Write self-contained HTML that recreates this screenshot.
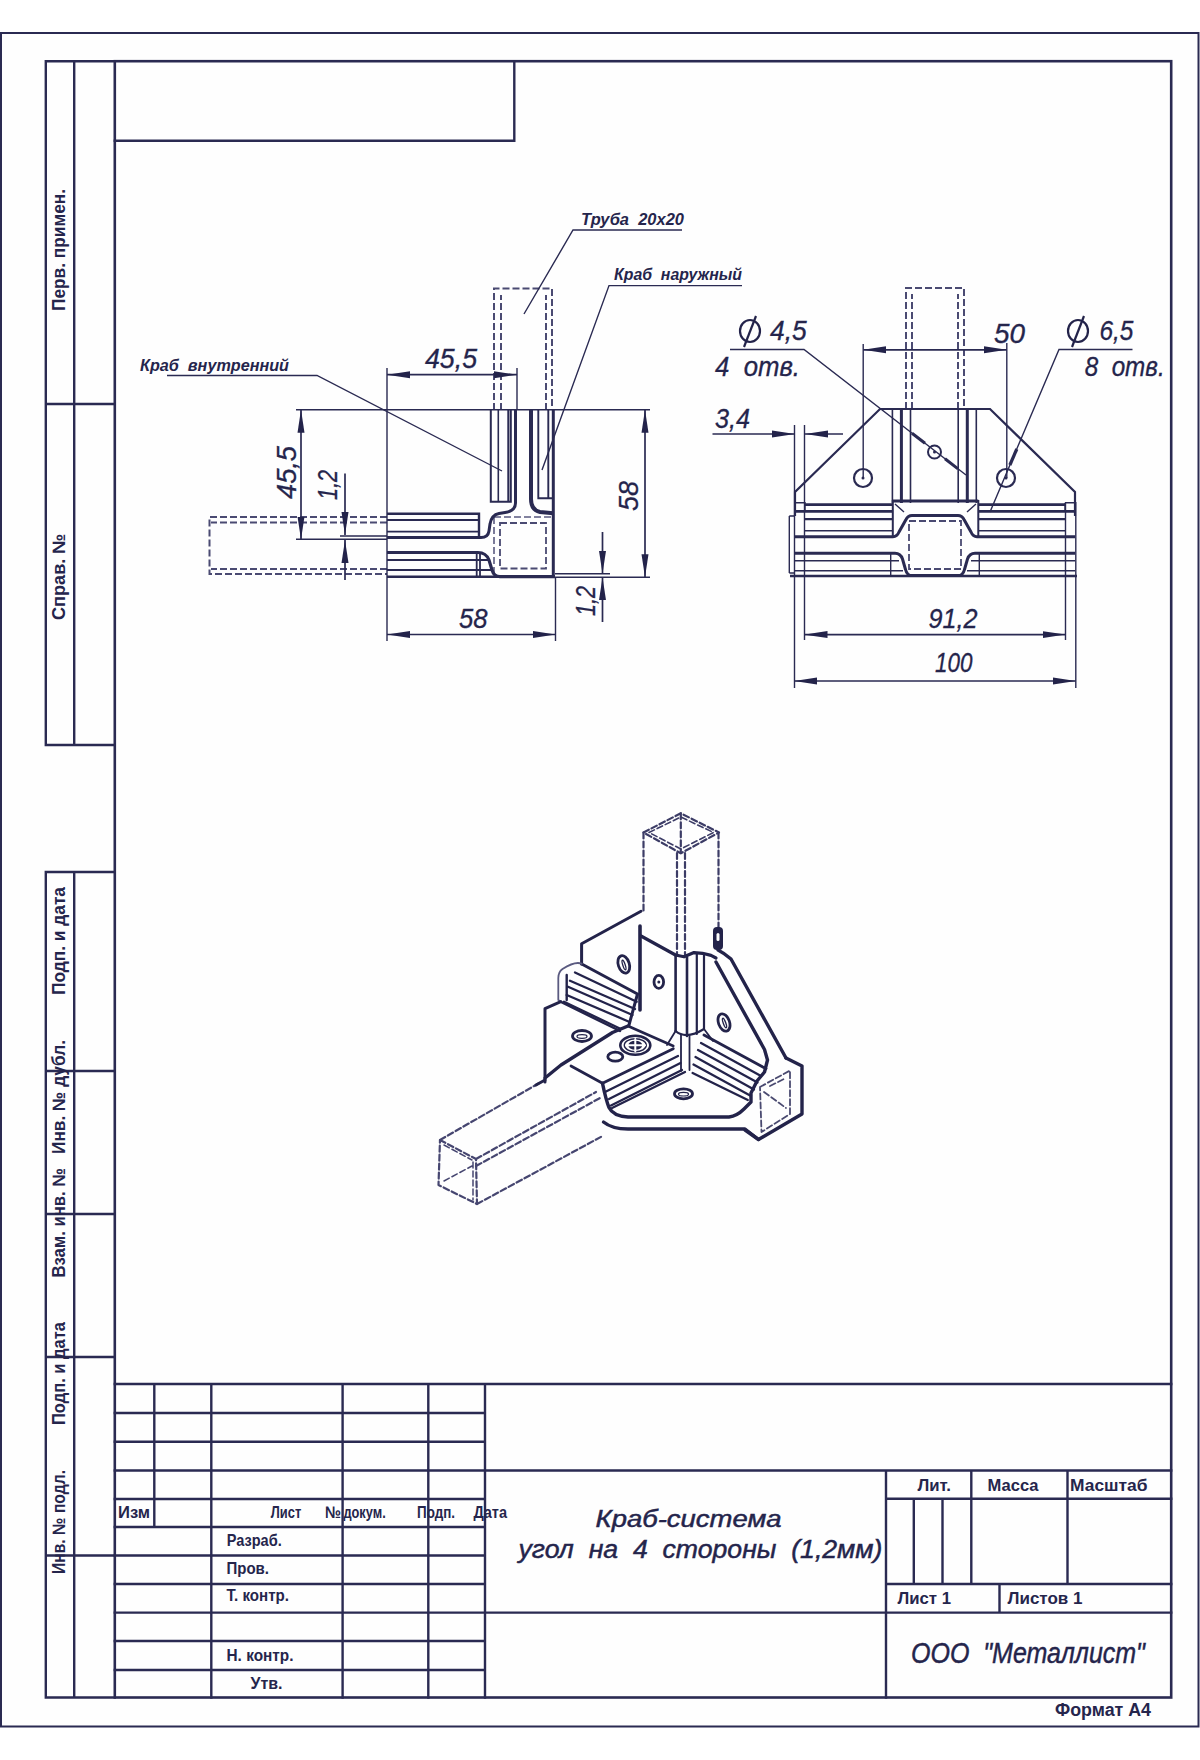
<!DOCTYPE html>
<html><head><meta charset="utf-8">
<style>
html,body{margin:0;padding:0;background:#fff;}
body{width:1200px;height:1760px;overflow:hidden;}
svg{display:block;}
text{font-family:"Liberation Sans",sans-serif;fill:#25254c;white-space:pre;}
.g{font-family:"Liberation Sans",sans-serif;font-style:italic;}
</style></head><body>
<svg width="1200" height="1760" viewBox="0 0 1200 1760">
<rect x="0" y="0" width="1200" height="1760" fill="#fff"/>
<rect x="2" y="34" width="1196" height="1692" fill="#fefefe"/>
<g id="frame" fill="none" stroke="#2a2a52" stroke-linecap="square">
<!-- outer border -->
<rect x="1" y="33" width="1197.5" height="1693.5" stroke-width="2"/>
<!-- inner frame -->
<rect x="114.8" y="61.2" width="1056.4" height="1636.3" stroke-width="2.6"/>
<!-- top-left box -->
<path d="M514.3 61.2 V140.8 H114.8" stroke-width="2.4"/>
<!-- left column -->
<path d="M45.8 61.2 H114.8 M45.8 61.2 V745 M74.2 61.2 V745 M45.8 404 H114.8 M45.8 745 H114.8
M45.8 872 V1697.5 M74.2 872 V1697.5 M45.8 872 H114.8 M45.8 1071 H114.8 M45.8 1214 H114.8 M45.8 1357 H114.8 M45.8 1555.5 H114.8 M45.8 1697.5 H114.8" stroke-width="2.4"/>
<!-- title block -->
<path d="M114.8 1384 H1171.2 M114.8 1413 H485 M114.8 1441.7 H485 M114.8 1470.5 H1171.2 M114.8 1499 H485 M114.8 1527 H485 M114.8 1555.5 H485
M114.8 1584 H485 M114.8 1612.6 H1171.2 M114.8 1641 H485 M114.8 1670 H485
M886 1498.8 H1171.2 M886 1584 H1171.2
M154.3 1384 V1527 M211.3 1384 V1697.5 M342.6 1384 V1697.5 M428.3 1384 V1697.5 M485 1384 V1697.5
M886 1470.5 V1697.5 M913.8 1498.8 V1584 M942.5 1498.8 V1584 M971.3 1470.5 V1584 M1067.5 1470.5 V1584 M999.5 1584 V1612.6" stroke-width="2.4"/>
</g>
<defs>
<marker id="ar" viewBox="0 0 23 9" refX="23" refY="4.5" markerWidth="23" markerHeight="9" markerUnits="userSpaceOnUse" orient="auto-start-reverse"><path d="M0 1 L23 4.5 L0 8 Z" fill="#23234a"/></marker>
</defs>
<g id="leftview" fill="none" stroke="#2a2a52" stroke-linecap="butt">
<!-- vertical pipe dashed -->
<path d="M494 410 V288.5 H552 V410 M501 410 V295 M546 410 V295" stroke-width="2" stroke-dasharray="7 3" stroke="#4a4a72"/>
<!-- horizontal pipe dashed -->
<path d="M387 517 H209.5 V574 H387 M387 522.5 H211 M387 569 H211" stroke-width="2" stroke-dasharray="7 3" stroke="#4a4a72"/>
<!-- third pipe section -->
<path d="M500 523 H546 V568.5 H500 Z" stroke-width="1.8" stroke-dasharray="7 3" stroke="#4a4a72"/>
<path d="M494 517 H552 M494 517 V574" stroke-width="1.6" stroke-dasharray="7 3" stroke="#5a5a80"/>
<!-- inner crab thin lines -->
<path d="M490.8 409.7 V501.7 H510.8 V409.7 M508.3 409.7 V501.7" stroke-width="2"/>
<path d="M498.3 409.7 V501.7" stroke-width="1.6"/>
<path d="M387 513.7 H479 V537.5" stroke-width="2.4"/>
<path d="M387 520 H479 M387 531.7 H479" stroke-width="1.8"/>
<!-- inner crab thick contour -->
<path d="M515.5 409.7 V503 Q515.5 511 505 512.5 L499 513.5 Q491.5 515 490 524 L489 531 Q488 537.5 481 537.5 H387" stroke-width="3"/>
<!-- outer crab -->
<path d="M531 409.7 V499 Q531 510 540 512 L553.3 513.3" stroke-width="4"/>
<path d="M538.3 409.7 V498.3 H553.3 M548.3 409.7 V498.3" stroke-width="1.9"/>
<path d="M553.3 409.7 V576.7" stroke-width="3"/>
<path d="M387 552.5 H478 Q486 552.5 489 560 L492 570 Q494 576.7 500 576.7 H555" stroke-width="3.2"/>
<path d="M387 576.7 H500" stroke-width="2.6"/>
<path d="M387 560 H490 M387 570 H493 M476.7 552.5 V576.7 M480 552.5 V576.7" stroke-width="1.8"/>
<!-- extension & dimension lines -->
<path d="M296 409.7 H650 M296 539.3 H387 M340 536 H387 M387 368 V641 M517 368 V409.7 M555.5 577 V641 M555 577.2 H650 M555 573.8 H610" stroke-width="1.4"/>
<path d="M387 374.7 H517" stroke-width="1.7" marker-start="url(#ar)" marker-end="url(#ar)"/>
<path d="M301 409.7 V539.5" stroke-width="1.7" marker-start="url(#ar)" marker-end="url(#ar)"/>
<path d="M387 634.5 H555.5" stroke-width="1.7" marker-start="url(#ar)" marker-end="url(#ar)"/>
<path d="M645 409.7 V577.2" stroke-width="1.7" marker-start="url(#ar)" marker-end="url(#ar)"/>
<path d="M345 473.5 V535" stroke-width="1.7" marker-end="url(#ar)"/>
<path d="M345 580 V540" stroke-width="1.7" marker-end="url(#ar)"/>
<path d="M602.5 532 V573.8" stroke-width="1.7" marker-end="url(#ar)"/>
<path d="M602.5 622 V577.2" stroke-width="1.7" marker-end="url(#ar)"/>
<!-- leaders -->
<path d="M682 230 H573 L524 314 M742 285.6 H609 L542 470 M167 375.5 H317 L502 471" stroke-width="1.4"/>
</g>
<g id="rightview" fill="none" stroke="#2a2a52">
<path d="M906 409 V288 H964 V409 M912 409 V294 M958 409 V294" stroke-width="2" stroke-dasharray="7 3" stroke="#4a4a72"/>
<path d="M909 521 H961 V569 H909 Z" stroke-width="1.8" stroke-dasharray="7 3" stroke="#4a4a72"/>
<path d="M795 516 V492 L880 409 H990 L1075 492 V516" stroke-width="2.2"/>
<path d="M892.4 409 V503 M910.5 409 V503 M958.2 409 V503 M976.3 409 V503" stroke-width="1.6"/>
<path d="M901.4 409 V503 M967.3 409 V503" stroke-width="3"/>
<!-- bands -->
<path d="M805 504.6 H893 M978 504.6 H1065" stroke-width="2.6"/>
<path d="M795 511.4 H893 M978 511.4 H1075" stroke-width="2.8"/>
<path d="M805 519.2 H893 M978 519.2 H1065" stroke-width="2.2"/>
<path d="M805 530.8 H893 M978 530.8 H1065" stroke-width="1.4"/>
<path d="M795 536.7 H893 Q897 536.7 899 532 L906 519.5 Q908 515.5 912 515.5 H958 Q962 515.5 964 519.5 L971 532 Q973 536.7 977 536.7 H1075" stroke-width="3"/>
<path d="M795 553.3 H895 Q900.5 553.3 902.5 559 L905.5 569.5 Q907 575.6 912 575.6 H958 Q963 575.6 964.5 569.5 L967.5 559 Q969.5 553.3 975 553.3 H1075" stroke-width="3"/>
<path d="M795 560.7 H899 M971 560.7 H1075 M795 570.7 H903 M967 570.7 H1075" stroke-width="1.4"/>
<path d="M790 576 H1077" stroke-width="2.6"/>
<path d="M892.8 501 H978.3" stroke-width="3"/>
<path d="M892.8 500 V537 M978.3 500 V537" stroke-width="2"/>
<path d="M890.7 553 V576 M979.3 553 V576" stroke-width="1.4"/>
<path d="M895 504 L904 512 M976 504 L967 512" stroke-width="1.4"/>
<path d="M795 502.7 H805 V512 M1065 502.7 H1075 M1065 502.7 V512 M789.3 516 V573 M789.3 516 H795 M789.3 573 H795" stroke-width="1.4"/>
<!-- holes -->
<circle cx="863" cy="478" r="9" stroke-width="2.2"/>
<circle cx="1006" cy="478" r="9" stroke-width="2.2"/>
<circle cx="934.5" cy="452" r="6.5" stroke-width="2"/>
<circle cx="863" cy="478" r="1.5" fill="#2a2a52" stroke="none"/>
<circle cx="1006" cy="478" r="1.5" fill="#2a2a52" stroke="none"/>
<circle cx="934.5" cy="452" r="1.5" fill="#2a2a52" stroke="none"/>
<!-- dims -->
<path d="M794.5 425 V688 M804.5 425 V640 M1065.5 503 V640 M1075.8 502 V688 M863.2 344 V478 M1006.8 343 V478" stroke-width="1.4"/>
<path d="M804.5 634.6 H1065.5" stroke-width="1.7" marker-start="url(#ar)" marker-end="url(#ar)"/>
<path d="M794.2 681 H1075.8" stroke-width="1.7" marker-start="url(#ar)" marker-end="url(#ar)"/>
<path d="M863.2 349.8 H1006.8" stroke-width="1.7" marker-start="url(#ar)" marker-end="url(#ar)"/>
<path d="M712.5 434 H795" stroke-width="1.7" marker-end="url(#ar)"/>
<path d="M843 434 H805" stroke-width="1.7" marker-end="url(#ar)"/>
<!-- leaders -->
<path d="M730 349.5 H804 L966 475" stroke-width="1.4"/>
<path d="M912 433.2 L925 443.3 M945 458.8 L958 468.9" stroke-width="3"/>
<path d="M1016.8 449 L1009.9 465" stroke-width="3.2"/>
<path d="M1132.5 349.5 H1059 L990 512" stroke-width="1.4"/>
</g>
<g id="iso" fill="none" stroke="#23234a" stroke-linejoin="round" stroke-linecap="round">
<!-- vertical pipe -->
<g stroke-dasharray="6 3" stroke-width="2.2" stroke="#3c3c66">
<path d="M643.5 832.5 L680.8 813.3 L719 832.5 L680.8 853.3 Z"/>
<path d="M649 832.5 L680.8 817 L713.5 832.5 L680.8 849 Z" stroke-width="1.6"/>
<path d="M680.8 813.3 V853"/>
<path d="M643.5 832.5 V913 M718.5 832.5 V928 M677 853 V955 M685 853 V955"/>
</g>
<!-- lower-left pipe -->
<g stroke-dasharray="6 3" stroke-width="2.2" stroke="#464670">
<path d="M440 1140 L476 1159 L477 1204 L438.5 1185 Z"/>
<path d="M444 1145 L472 1160 M444 1181 L472 1166 M473 1162 V1200" stroke-width="1.5"/>
<path d="M440 1140 L541 1082 M476 1159 L596 1092 M476 1166 L600 1098 M477 1204 L603.5 1135.5"/>
</g>
<path d="M536 1085 L545 1080" stroke-width="3"/>
<!-- right pipe end -->
<g stroke-dasharray="6 3" stroke-width="1.8" stroke="#4a4a70">
<path d="M760 1087 L790 1070.5 V1114 L761.5 1132 Z"/>
<path d="M764 1092 L786 1108 M770 1086 L786 1078"/>
</g>
<path d="M786 1058 L802 1066 V1114 L758.5 1139.5 L745 1130" stroke-width="3.4"/>
<!-- upper-left wing -->
<path d="M581.6 964 V943.8 L641 911.3" stroke-width="3"/>
<path d="M640 926 V1010" stroke-width="3.6"/>
<path d="M641 936 L675.5 955 L684 956.8 L694 952.6 L702.5 953.3 L711 955.4 L716 958" stroke-width="3.2"/>
<ellipse cx="623.8" cy="964.4" rx="5.5" ry="9" transform="rotate(-18 623.8 964.4)" stroke-width="2.8"/>
<ellipse cx="624" cy="965" rx="1.2" ry="5" transform="rotate(-18 624 965)" stroke-width="1.4"/>
<ellipse cx="658.8" cy="981.9" rx="4.8" ry="6.5" stroke-width="2.8"/>
<circle cx="658.8" cy="982" r="1.5" fill="#23234a" stroke="none"/>
<!-- left channel -->
<path d="M581.7 964 L637.5 994 L629 1025" stroke-width="3"/>
<path d="M575 972.5 L636.7 1001.7 M570 980.8 L635 1009 M568 986.7 L632.5 1015 M566.7 995 L629 1021.7 M564 1001.7 L620.8 1029" stroke-width="2.3"/>
<path d="M581.7 963.7 Q575 961 562.5 969 Q558.3 972 558.3 978 V1000 L561.7 1001.7" stroke-width="1.8" stroke="#5a5a80"/>
<path d="M566.7 975 V1000" stroke-width="2.4"/>
<!-- lower-left wing -->
<path d="M545 1082 V1008.7 L560.8 1001.7" stroke-width="3"/>
<path d="M561 1002 L620 1031" stroke-width="2.4"/>
<path d="M545 1078 L561 1065 L612.5 1032.5 L628 1026" stroke-width="3.4"/>
<ellipse cx="582" cy="1036" rx="9.5" ry="5.5" stroke-width="2.8"/>
<ellipse cx="582" cy="1036.5" rx="5" ry="1.8" stroke-width="1.2"/>
<!-- bottom plate -->
<path d="M571 1066 L602.5 1083.3" stroke-width="2.8"/>
<path d="M628 1026 L673.3 1046" stroke-width="2.6"/>
<path d="M602.5 1083.3 L673.3 1048.7" stroke-width="2.8"/>
<ellipse cx="635.3" cy="1045.3" rx="15" ry="9.5" stroke-width="2.6"/>
<ellipse cx="635.3" cy="1045.3" rx="11" ry="6.5" stroke-width="1.4"/>
<ellipse cx="635.3" cy="1045.3" rx="7" ry="4.5" fill="#23234a" stroke="none"/>
<path d="M626 1045.3 H645 M635.3 1039 V1051.5" stroke-width="2" stroke="#fff"/>
<ellipse cx="615.3" cy="1056.7" rx="7.5" ry="4.5" stroke-width="2.8"/>
<!-- front-left groove -->
<path d="M606 1091.5 L678 1056 M609 1099 L680.5 1063 M611 1105.5 L682 1070" stroke-width="2.3"/>
<!-- crab bottom boundary -->
<path d="M602.5 1083.3 Q606 1100 609 1107.5 Q613 1116 628 1117 H729 Q737 1116 744 1109 L751 1102 V1093 L757 1081 L764.5 1072 L767.5 1060 L764.5 1049.5 L716 962" stroke-width="3.4"/>
<path d="M603.5 1122 Q612 1129 628 1129 H745 L758.5 1139.5" stroke-width="3.4"/>
<!-- right flange -->
<path d="M718 928.5 V950 Q724 953 731 959 L786 1058" stroke-width="3.4"/>
<rect x="713" y="927" width="10" height="23" rx="4" fill="#23234a" stroke="none"/>
<rect x="716.5" y="933" width="3" height="8" rx="1.5" fill="#fefefe" stroke="none"/>
<!-- vertical groove on front face -->
<path d="M675.6 956 V1031 M687 957 V1036" stroke-width="2.6"/>
<path d="M696.8 954 V1034 M704 954 V1029" stroke-width="2.2"/>
<path d="M675.6 1031 Q686 1040 704 1029" stroke-width="2.2"/>
<path d="M681 1035 V1071 M689.5 1036 V1070 M675.6 1031 L667 1045 M704 1029 L713 1041" stroke-width="1.8"/>
<!-- right groove -->
<path d="M704 1035 L766 1068.7" stroke-width="2.8"/>
<path d="M701 1043 L761 1076 M698 1050 L757.5 1082.5 M695.5 1057 L754 1089.5 M693.5 1064.5 L751 1096 M692.6 1073 L747.8 1100" stroke-width="2.3"/>
<!-- right plate hole -->
<ellipse cx="724" cy="1022.5" rx="5.5" ry="9" transform="rotate(-20 724 1022.5)" stroke-width="2.8"/>
<ellipse cx="724.5" cy="1023" rx="1.2" ry="5" transform="rotate(-20 724.5 1023)" stroke-width="1.4"/>
<!-- bottom plate hole -->
<ellipse cx="683.5" cy="1093.8" rx="9" ry="5" stroke-width="2.8"/>
<ellipse cx="683.5" cy="1094.2" rx="5" ry="1.8" stroke-width="1.2"/>
<!-- bottom plate left boundary -->
<path d="M685 1072 L612 1108" stroke-width="2.3"/>
</g>
<g id="sidetext" font-size="18" font-weight="bold">
<text transform="translate(65.3 250.0) rotate(-90)" x="-61.0" y="0" textLength="122" lengthAdjust="spacingAndGlyphs">Перв. примен.</text>
<text transform="translate(65.3 576.75) rotate(-90)" x="-43.25" y="0" textLength="86.5" lengthAdjust="spacingAndGlyphs">Справ. №</text>
<text transform="translate(65.3 941.0) rotate(-90)" x="-54.0" y="0" textLength="108" lengthAdjust="spacingAndGlyphs">Подп. и дата</text>
<text transform="translate(65.3 1097.0) rotate(-90)" x="-57.0" y="0" textLength="114" lengthAdjust="spacingAndGlyphs">Инв. № дубл.</text>
<text transform="translate(65.3 1222.8) rotate(-90)" x="-54.8" y="0" textLength="109.6" lengthAdjust="spacingAndGlyphs">Взам. инв. №</text>
<text transform="translate(65.3 1373.5) rotate(-90)" x="-51.5" y="0" textLength="103" lengthAdjust="spacingAndGlyphs">Подп. и дата</text>
<text transform="translate(65.3 1522.0) rotate(-90)" x="-52.0" y="0" textLength="104" lengthAdjust="spacingAndGlyphs">Инв. № подл.</text>
</g>
<g id="tbtext" font-size="16.5" font-weight="bold">
<text x="118" y="1518" textLength="32" lengthAdjust="spacingAndGlyphs">Изм</text>
<text x="270.8" y="1518.4" textLength="30.4" lengthAdjust="spacingAndGlyphs">Лист</text>
<text x="325" y="1518.4" textLength="16" lengthAdjust="spacingAndGlyphs">№</text>
<text x="343.4" y="1518.4" textLength="42.3" lengthAdjust="spacingAndGlyphs">докум.</text>
<text x="417" y="1518.4" textLength="38" lengthAdjust="spacingAndGlyphs">Подп.</text>
<text x="473.4" y="1518.4" textLength="33.6" lengthAdjust="spacingAndGlyphs">Дата</text>
<text x="226.7" y="1546" textLength="55" lengthAdjust="spacingAndGlyphs">Разраб.</text>
<text x="226.5" y="1573.5" textLength="42.5" lengthAdjust="spacingAndGlyphs">Пров.</text>
<text x="226.5" y="1601" textLength="62.5" lengthAdjust="spacingAndGlyphs">Т. контр.</text>
<text x="226.5" y="1660.5" textLength="67" lengthAdjust="spacingAndGlyphs">Н. контр.</text>
<text x="250.5" y="1689" textLength="32" lengthAdjust="spacingAndGlyphs">Утв.</text>
<text x="917.5" y="1491" textLength="33.5" lengthAdjust="spacingAndGlyphs">Лит.</text>
<text x="987.5" y="1491" textLength="51" lengthAdjust="spacingAndGlyphs">Масса</text>
<text x="1070" y="1491" textLength="77.5" lengthAdjust="spacingAndGlyphs">Масштаб</text>
<text x="897.5" y="1603.5" textLength="53.5" lengthAdjust="spacingAndGlyphs">Лист 1</text>
<text x="1007.5" y="1603.5" textLength="75" lengthAdjust="spacingAndGlyphs">Листов 1</text>
<text x="1055" y="1716" textLength="96" lengthAdjust="spacingAndGlyphs" font-size="17.5">Формат А4</text>
</g>
<g id="gost" class="g" stroke="#23234a" stroke-width="0.45">
<text x="595.5" y="1526.5" textLength="186" lengthAdjust="spacingAndGlyphs" font-size="23">Краб-система</text>
<text x="518.5" y="1558" textLength="364" lengthAdjust="spacingAndGlyphs" font-size="25">угол  на  4  стороны  (1,2мм)</text>
<text x="911" y="1662.5" textLength="234" lengthAdjust="spacingAndGlyphs" font-size="29">ООО  "Металлист"</text>
</g>
<g id="dimtext" class="g" font-size="27" stroke="#23234a" stroke-width="0.3">
<text x="425" y="367.5" textLength="52" lengthAdjust="spacingAndGlyphs">45,5</text>
<text x="459" y="627.5" textLength="28.5" lengthAdjust="spacingAndGlyphs">58</text>
<text x="770" y="340" textLength="36.7" lengthAdjust="spacingAndGlyphs">4,5</text>
<text x="715" y="375.8" textLength="85" lengthAdjust="spacingAndGlyphs">4  отв.</text>
<text x="715" y="427.5" textLength="35" lengthAdjust="spacingAndGlyphs">3,4</text>
<text x="994" y="343" textLength="31" lengthAdjust="spacingAndGlyphs">50</text>
<text x="1099.4" y="340" textLength="34" lengthAdjust="spacingAndGlyphs">6,5</text>
<text x="1084.7" y="376" textLength="80" lengthAdjust="spacingAndGlyphs">8  отв.</text>
<text x="928.5" y="628" textLength="49" lengthAdjust="spacingAndGlyphs">91,2</text>
<text x="935" y="672" textLength="37.5" lengthAdjust="spacingAndGlyphs">100</text>
<text transform="translate(296 472.5) rotate(-90)" x="-26.5" y="0" textLength="53" lengthAdjust="spacingAndGlyphs">45,5</text>
<text transform="translate(336.5 485) rotate(-90)" x="-15.0" y="0" textLength="30" lengthAdjust="spacingAndGlyphs">1,2</text>
<text transform="translate(638 496) rotate(-90)" x="-15.0" y="0" textLength="30" lengthAdjust="spacingAndGlyphs">58</text>
<text transform="translate(594.5 601) rotate(-90)" x="-15.0" y="0" textLength="30" lengthAdjust="spacingAndGlyphs">1,2</text>
</g>
<g fill="none" stroke="#23234a" stroke-width="2.2">
<ellipse cx="750" cy="331" rx="10" ry="11"/><path d="M756 316 L744 347"/>
<ellipse cx="1078" cy="331" rx="10" ry="11"/><path d="M1084 316 L1072 347"/>
</g>
<g id="labels" font-size="17" font-style="italic" font-weight="bold">
<text x="581" y="225" textLength="103" lengthAdjust="spacingAndGlyphs">Труба  20x20</text>
<text x="614" y="280" textLength="128" lengthAdjust="spacingAndGlyphs">Краб  наружный</text>
<text x="140" y="370.8" textLength="149" lengthAdjust="spacingAndGlyphs">Краб  внутренний</text>
</g>
</svg>
</body></html>
